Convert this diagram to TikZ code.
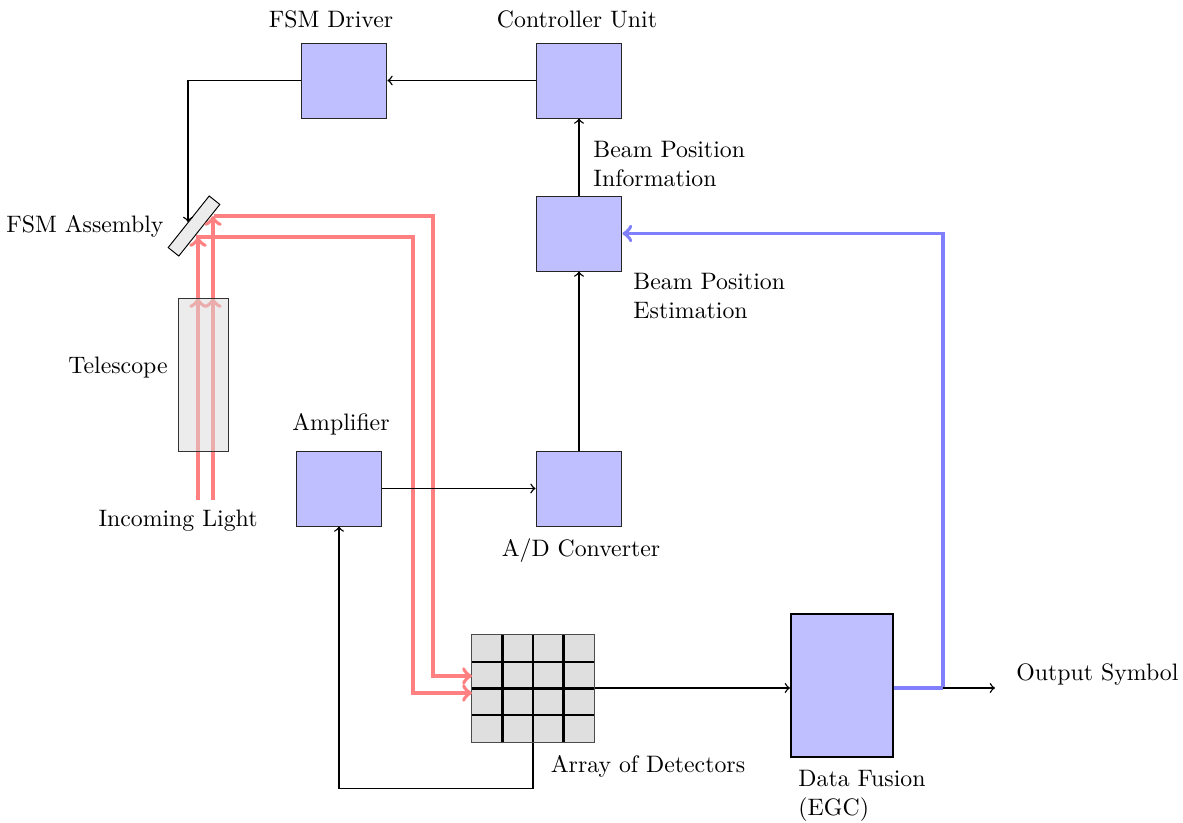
\documentclass[tikz,border=0pt]{standalone}
\usetikzlibrary{arrows}
\begin{document}
\begin{tikzpicture}[x=0.4202pt,y=-0.4202pt,
  blk/.style={draw=black!85, fill=blue!25, minimum width=36.1pt, minimum height=31.5pt, inner sep=0pt},
  lbl/.style={inner sep=0pt},
  conn/.style={semithick, ->},
  redbeam/.style={draw=red!50, line width=1.6pt, ->},
  bluebeam/.style={draw=blue!50, line width=1.6pt},
  gridline/.style={line width=1pt, black}
]
\useasboundingbox (0,0) rectangle (1183,823);
% blocks
\node[blk] (fsmd) at (344,80.5) {};
\node[blk] (ctrl) at (579,80.5) {};
\node[blk] (bpe) at (579,233.5) {};
\node[blk] (ad) at (579,488.5) {};
\node[blk] (amp) at (339,488.5) {};
\node[blk, thick, draw=black, minimum width=42.9pt, minimum height=60.1pt] (df) at (842,685.5) {};
\node[draw=black!70, fill=gray!25, minimum width=51.3pt, minimum height=45pt, inner sep=0pt] (array) at (533,688.5) {};
\foreach \i in {1,2,3} {
  \draw[gridline] (472+30.5*\i,635) -- (472+30.5*\i,742);
  \draw[gridline] (472,635+26.75*\i) -- (594,635+26.75*\i);
}
% mirror
\node[draw=black, fill=gray!15, minimum width=27.7pt, minimum height=5.7pt, inner sep=0pt, rotate=51.5] (mirror) at (194,226) {};
% labels
\node[lbl] (lfsmd) at (331,19) {FSM Driver};
\node[lbl] (lctrl) at (577,19) {Controller Unit};
\node[lbl, anchor=west, align=left] (lbpi) at (593,164) {Beam Position\\Information};
\node[lbl, anchor=west, align=left] (lbpe) at (633,296) {Beam Position\\Estimation};
\node[lbl, anchor=east] (lmir) at (164,226) {FSM Assembly};
\node[lbl] (ltel) at (118,368) {Telescope};
\node[lbl] (lamp) at (341,424) {Amplifier};
\node[lbl] (linc) at (178,521) {Incoming Light};
\node[lbl] (lad) at (581,551) {A/D Converter};
\node[lbl] (larr) at (648,766) {Array of Detectors};
\node[lbl, anchor=west, align=left] (ldf) at (798,796) {Data Fusion\\(EGC)};
\node[lbl, anchor=west] (lout) at (1016,675) {Output Symbol};
% coordinates
\coordinate (inA) at (198,500);
\coordinate (inB) at (213,500);
\coordinate (telA) at (198,298);
\coordinate (telB) at (213,298);
\coordinate (mirA) at (198,237);
\coordinate (mirB) at (213,216);
\coordinate (detA) at (472,693);
\coordinate (detB) at (472,676);
\coordinate (mirhit) at (188,222);
\coordinate (split) at (943,688);
\coordinate (outend) at (995,688);
% red beams
\draw[redbeam] (inA) -- (telA);
\draw[redbeam] (inB) -- (telB);
\draw[redbeam] (telA) -- (mirA);
\draw[redbeam] (telB) -- (mirB);
\draw[redbeam] (196,237) -- (413,237) -- (413,693) -- (detA);
\draw[redbeam] (214,216) -- (433,216) -- (433,676) -- (detB);
% telescope
\node[draw=black!80, fill=gray!30, fill opacity=0.5, minimum width=21.4pt, minimum height=64.3pt, inner sep=0pt] (tel) at (203.5,374.5) {};
% connectors
\draw[conn] (ctrl.west) -- (fsmd.east);
\draw[conn] (fsmd.west) -| (mirhit);
\draw[conn] (bpe.north) -- (ctrl.south);
\draw[conn] (ad.north) -- (bpe.south);
\draw[conn] (amp.east) -- (ad.west);
\draw[conn] (array.south) -- ++(0,46) -| (amp.south);
\draw[conn] (array.east |- split) -- (df.west |- split);
\draw[bluebeam] (df.east |- split) -- (split);
\draw[bluebeam, ->] (split) |- (bpe.east);
\draw[conn] (split) -- (outend);
\end{tikzpicture}
\end{document}
